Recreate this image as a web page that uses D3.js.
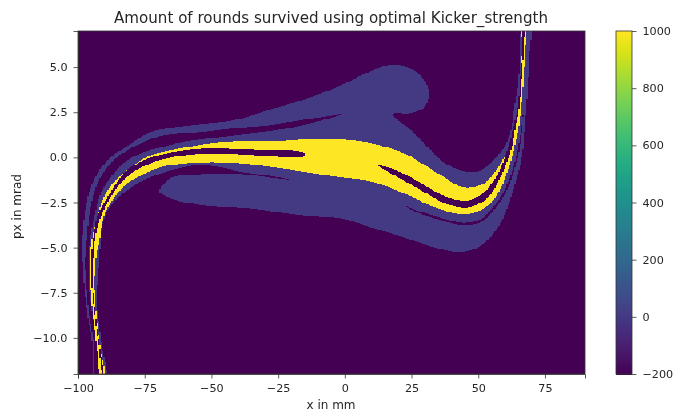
<!DOCTYPE html>
<html><head><meta charset="utf-8">
<style>html,body{margin:0;padding:0;background:#fff}svg{display:block;filter:blur(0.35px)}text{font-family:"DejaVu Sans",sans-serif;fill:#262626}</style>
<script src="https://cdn.jsdelivr.net/npm/d3@7"></script>
</head><body><svg id="c" width="677" height="416"></svg>
<script>
const titleText = "Amount of rounds survived using optimal Kicker_strength";
const xLabel = "x in mm";
const yLabel = "px in mrad";
const xTicks = [-100,-75,-50,-25,0,25,50,75];
const yTicks = [5,2.5,0,-2.5,-5,-7.5,-10];
const cbTicks = [-200,0,200,400,600,800,1000];
const xDomain = [-100,90];
const yDomain = [-12,7];
const cellW = 0.5, cellH = 0.05;
const backgroundValue = -200, survivedValue = 0, fullValue = 1000;

// region outlines, in (mm, mrad)
const survivedRegion = [[-94,-12.1],[-94.5,-10.42],[-96.4,-8.75],[-97.5,-7.37],[-98.25,-5.82],[-98.25,-4.32],[-97.1,-2.77],[-95.6,-1.83],[-92.25,-0.78],[-87.75,0],[-82.9,0.5],[-73.9,1.33],[-66.4,1.61],[-54,1.83],[-41.6,2.05],[-26.6,2.71],[-13.9,3.27],[-1.5,3.99],[8.6,4.71],[14.6,5.04],[19.9,5.1],[25.9,4.82],[30.4,4.1],[31.5,3.43],[29.6,2.77],[24.75,2.44],[18,2.38],[24.75,1.5],[31.1,0.55],[37.1,-0.28],[43.5,-0.72],[49.9,-0.78],[54.75,-0.28],[59.6,0.55],[62.25,1.5],[63.4,2.71],[64.9,3.99],[65.6,5.48],[66.4,7.1],[69.4,7.1],[69,5.48],[68.6,3.99],[67.5,1.94],[66.4,0.11],[62.25,-2.22],[57.4,-3.88],[51,-4.88],[43.5,-5.26],[34.9,-5.04],[22.1,-4.43],[9.75,-3.88],[-1.5,-3.38],[-16.5,-3.21],[-35.25,-2.83],[-52.9,-2.66],[-65.25,-2.27],[-69.4,-1.88],[-65.25,-1.16],[-55.1,-0.94],[-46.5,-0.89],[-39,-0.91],[-27,-1.14],[-20.25,-1.25],[-27,-1.05],[-39,-0.8],[-46.5,-0.55],[-55.1,-0.44],[-63.4,-0.66],[-69,-0.89],[-77.6,-1.44],[-84,-2.1],[-88.9,-2.94],[-91,-3.9],[-92,-5.71],[-93,-7.92],[-92.4,-8.86],[-91.1,-10.42],[-89.6,-12.1]];
const upperGap = [[-1.5,2.38],[-16.5,2.05],[-28.9,1.77],[-41.6,1.61],[-54,1.39],[-66.4,1.27],[-73.9,0.94],[-81.4,0.39],[-85.9,-0.06],[-90.4,-0.83],[-93.4,-1.72],[-95.25,-2.77],[-96.6,-4.32],[-97.3,-5.82],[-96.75,-7.37],[-95.8,-8.75],[-93.9,-10.42],[-93.4,-12.1],[-91.9,-12.1],[-93,-10.42],[-94.5,-8.75],[-95.8,-7.37],[-96.2,-5.82],[-95.25,-4.32],[-93,-2.77],[-91.5,-2],[-88.5,-1.27],[-82.9,-0.33],[-76.5,0.22],[-69,0.55],[-61.5,0.83],[-41.6,1.22],[-28.9,1.44],[-16.5,1.75]];
const fullBand = [[-91.5,-12.1],[-92.8,-10.69],[-94.3,-8.86],[-95.25,-7.37],[-95.6,-5.71],[-94.9,-4.6],[-92.6,-3.21],[-90.4,-2.22],[-86.6,-1.39],[-80.25,-0.55],[-73.9,0.03],[-69,0.28],[-65.25,0.39],[-50.25,0.78],[-39,0.89],[-26.6,0.89],[-13.9,1],[-1.5,1],[9.75,0.78],[22.1,0.22],[34.9,-0.89],[44.6,-1.66],[52.1,-1.44],[57.4,-0.55],[60.4,0.22],[62.25,1.05],[64.5,2.33],[65.4,3.6],[66,4.93],[66.4,6.2],[66.4,7.1],[67.5,7.1],[67.5,5.65],[67.1,4.71],[66.4,3.27],[65.25,1.77],[63,0.22],[61.5,-0.55],[57.4,-1.99],[52.1,-2.83],[44.6,-3.16],[34.9,-2.83],[22.1,-1.99],[9.75,-1.33],[-1.5,-1.11],[-13.9,-0.83],[-26.6,-0.55],[-39,-0.33],[-52.9,-0.28],[-63.4,-0.39],[-69,-0.55],[-73.9,-0.83],[-81.4,-1.44],[-86.6,-2.27],[-90.4,-3.32],[-91.9,-4.6],[-93.4,-5.71],[-93.75,-7.37],[-93,-8.86],[-91.5,-10.69],[-90,-12.1]];
const leftSlit = [[-90.75,-12.1],[-92.25,-10.42],[-93.75,-8.75],[-94.7,-7.37],[-95.1,-5.71],[-94.1,-4.32],[-92.6,-3.21],[-88.5,-2.11],[-82.1,-0.78],[-73.5,-0.06],[-62.6,0.33],[-50.25,0.5],[-39,0.44],[-15.4,0.25],[-15,0.06],[-39,0.17],[-50.25,0.22],[-62.6,0.06],[-72.75,-0.33],[-81,-1],[-87.4,-2.11],[-91.5,-3.32],[-93.4,-4.32],[-94.3,-5.71],[-94.3,-7.37],[-93.4,-8.75],[-91.9,-10.42],[-90.45,-12.1]];
const rightSlit = [[12,-0.42],[17.25,-0.61],[24.75,-1.11],[31.1,-1.66],[38.6,-2.22],[46.1,-2.38],[52.1,-1.94],[57,-1],[61.1,0.5],[63,1.61],[64.9,2.88],[65.6,4.27],[66.6,5.82],[66.75,7.1],[67.1,7.1],[66.9,5.82],[66.2,4.27],[65.4,2.88],[63.9,1.61],[62.25,0.39],[58.1,-1.16],[53.25,-2.27],[46.1,-2.77],[38.6,-2.6],[31.1,-2.05],[24.75,-1.5],[17.25,-0.89]];
const lowerSlit = [[22.9,-2.71],[27.4,-2.96],[34.9,-3.3],[44.6,-3.63],[51,-3.41],[55.9,-2.69],[59.6,-1.88],[63.4,-0.44],[65.25,0.78],[66.75,2.33],[65.8,0.78],[63.9,-0.5],[60.2,-1.97],[56.4,-2.8],[51.4,-3.55],[44.6,-3.77],[34.9,-3.43],[27.4,-3.07]];
const layers = [
  {poly:survivedRegion, v:survivedValue},
  {poly:upperGap, v:backgroundValue},
  {poly:lowerSlit, v:backgroundValue},
  {poly:fullBand, v:fullValue},
  {poly:leftSlit, v:backgroundValue},
  {poly:rightSlit, v:backgroundValue}
];

const L=78,R=585,T=31,B=374,CL=616,CR=632;
const svg=d3.select("#c");
const x=d3.scaleLinear().domain(xDomain).range([L,R]);
const y=d3.scaleLinear().domain(yDomain).range([B,T]);
const color=d3.scaleSequential(d3.interpolateViridis).domain([backgroundValue,fullValue]);
const line=d3.line().x(d=>x(d[0])).y(d=>y(d[1])).curve(d3.curveCatmullRomClosed.alpha(0.5));
const ctx=document.createElement("canvas").getContext("2d");
const paths=layers.map(l=>({p:new Path2D(line(l.poly)),v:l.v}));

// rasterise outlines onto the measurement grid, merging equal cells in a row
const nx=Math.round((xDomain[1]-xDomain[0])/cellW), ny=Math.round((yDomain[1]-yDomain[0])/cellH);
const runs=[];
for(let j=0;j<ny;j++){
  const y0=yDomain[0]+j*cellH, py=y(y0+cellH/2);
  let start=0,cur=null;
  for(let i=0;i<=nx;i++){
    let v=null;
    if(i<nx){
      v=backgroundValue;
      const px=x(xDomain[0]+(i+0.5)*cellW);
      for(const q of paths) if(ctx.isPointInPath(q.p,px,py)) v=q.v;
    }
    if(v!==cur){
      if(cur!==null&&cur!==backgroundValue) runs.push({x0:xDomain[0]+start*cellW,x1:xDomain[0]+i*cellW,y0,y1:y0+cellH,v:cur});
      cur=v;start=i;
    }
  }
}
const plot=svg.append("g");
plot.append("rect").attr("x",L).attr("y",T).attr("width",R-L).attr("height",B-T).attr("fill",color(backgroundValue));
plot.selectAll("rect.c").data(runs).join("rect").attr("class","c")
  .attr("x",d=>x(d.x0)).attr("width",d=>x(d.x1)-x(d.x0))
  .attr("y",d=>y(d.y1)).attr("height",d=>y(d.y0)-y(d.y1))
  .attr("fill",d=>color(d.v)).attr("shape-rendering","crispEdges");

function style(g){
  g.selectAll("text").attr("font-size",11.2).attr("font-family","DejaVu Sans").attr("fill","#262626");
  g.selectAll("line").attr("stroke","#333").attr("stroke-width",0.8);
  g.select(".domain").attr("stroke","#333").attr("stroke-width",0.8);
}
const ts=4.5, tp=6;
const ax=svg.append("g").attr("transform",`translate(0,${B})`)
  .call(d3.axisBottom(x).tickValues(xTicks).tickFormat(d3.format("d")).tickSizeOuter(0).tickSize(ts).tickPadding(tp)).call(style);
const ay=svg.append("g").attr("transform",`translate(${L},0)`)
  .call(d3.axisLeft(y).tickValues(yTicks).tickFormat(d3.format(".1f")).tickSizeOuter(0).tickSize(ts).tickPadding(tp)).call(style);
svg.append("rect").attr("x",L).attr("y",T).attr("width",R-L).attr("height",B-T).attr("fill","none").attr("stroke","#333").attr("stroke-width",0.8);

svg.append("text").attr("x",331).attr("y",23).attr("text-anchor","middle").attr("font-size",15.1).text(titleText);
svg.append("text").attr("x",331).attr("y",409).attr("text-anchor","middle").attr("font-size",12).text(xLabel);
svg.append("text").attr("transform",`translate(21,${(T+B)/2+4}) rotate(-90)`).attr("text-anchor","middle").attr("font-size",12).text(yLabel);

// colorbar
const cb=d3.scaleLinear().domain([backgroundValue,fullValue]).range([B,T]);
const cbSteps=d3.range(backgroundValue,fullValue,4);
svg.append("g").selectAll("rect").data(cbSteps).join("rect")
  .attr("x",CL).attr("width",CR-CL).attr("y",d=>cb(d+4)).attr("height",d=>cb(d)-cb(d+4)+0.5)
  .attr("fill",d=>color(d+2)).attr("shape-rendering","crispEdges");
svg.append("rect").attr("x",CL).attr("y",T).attr("width",CR-CL).attr("height",B-T).attr("fill","none").attr("stroke","#333").attr("stroke-width",0.8);
svg.append("g").attr("transform",`translate(${CR},0)`)
  .call(d3.axisRight(cb).tickValues(cbTicks).tickFormat(d3.format("d")).tickSizeOuter(0).tickSize(ts).tickPadding(tp)).call(style)
  .select(".domain").remove();
</script></body></html>
